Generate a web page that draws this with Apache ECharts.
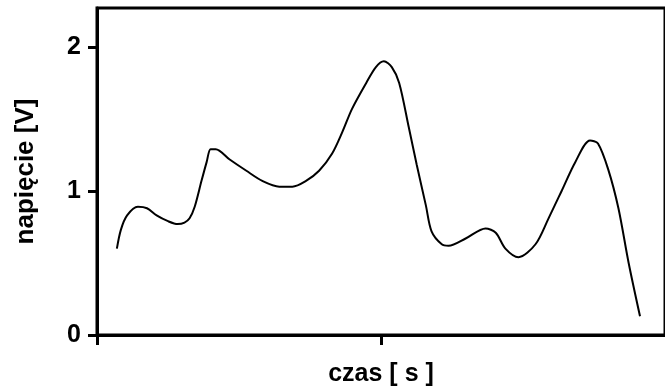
<!DOCTYPE html>
<html>
<head>
<meta charset="utf-8">
<script src="https://cdn.jsdelivr.net/npm/echarts@6/dist/echarts.min.js"></script>
<style>
  html, body { margin: 0; padding: 0; background: #fff; }
  #chart { width: 665px; height: 392px; }
</style>
</head>
<body>
<div id="chart"></div>
<script>
// time position (0..100 across the frame) and voltage
var czas = [3.5, 4.2, 5.3, 7.2, 8.8, 10.5, 12.5, 14.2, 15.4, 16.3, 17.2, 18.4, 19.3, 20.0, 20.9, 23.3, 26.3, 29.1, 32.1, 34.4, 36.8, 39.1, 41.4, 43.2, 44.9, 47.4, 49.1, 50.5, 51.9, 53.2, 54.9, 56.3, 57.9, 58.9, 60.7, 61.9, 64.9, 68.4, 70.2, 71.9, 74.2, 77.2, 79.5, 81.8, 84.2, 86.8, 88.2, 90.0, 91.8, 93.6, 95.6];
var napiecie = [0.60, 0.73, 0.83, 0.89, 0.88, 0.83, 0.79, 0.77, 0.78, 0.81, 0.89, 1.07, 1.20, 1.29, 1.29, 1.22, 1.14, 1.07, 1.03, 1.03, 1.07, 1.14, 1.26, 1.41, 1.57, 1.75, 1.86, 1.90, 1.86, 1.75, 1.44, 1.18, 0.90, 0.72, 0.63, 0.62, 0.67, 0.74, 0.71, 0.60, 0.54, 0.63, 0.81, 1.00, 1.20, 1.35, 1.33, 1.15, 0.88, 0.50, 0.13];
var yTicks = [0, 1, 2];
var xTicks = [0, 50];

var punkty = czas.map(function (t, i) { return [t, napiecie[i]]; });

var chart = echarts.init(document.getElementById('chart'));
var font = 'Liberation Sans, Arial, sans-serif';
chart.setOption({
  backgroundColor: '#fff',
  animation: false,
  grid: {
    left: 97, right: -3, top: 8, bottom: 54,
    show: true, borderColor: '#000', borderWidth: 3, backgroundColor: 'transparent'
  },
  xAxis: {
    type: 'value', min: 0, max: 100,
    name: 'czas [ s ]', nameLocation: 'middle', nameGap: 27,
    nameTextStyle: { color: '#000', fontFamily: font, fontWeight: 'bold', fontSize: 25 },
    axisLine: { show: true, onZero: false, lineStyle: { color: '#000', width: 3 } },
    axisTick: { show: true, length: 10, customValues: xTicks, lineStyle: { color: '#000', width: 3 } },
    axisLabel: { show: false },
    splitLine: { show: false }
  },
  yAxis: {
    type: 'value', min: 0, max: 2.27,
    name: 'napięcie [V]', nameLocation: 'middle', nameGap: 58,
    nameTextStyle: { color: '#000', fontFamily: font, fontWeight: 'bold', fontSize: 26 },
    axisLine: { show: true, lineStyle: { color: '#000', width: 3 } },
    axisTick: { show: true, length: 9, customValues: yTicks, lineStyle: { color: '#000', width: 3 } },
    axisLabel: { customValues: yTicks, margin: 16, color: '#000', fontFamily: font, fontWeight: 'bold', fontSize: 25 },
    splitLine: { show: false }
  },
  series: [{
    type: 'line',
    data: punkty,
    smooth: 0.3,
    symbol: 'none',
    lineStyle: { color: '#000', width: 2 }
  }]
});
</script>
</body>
</html>
